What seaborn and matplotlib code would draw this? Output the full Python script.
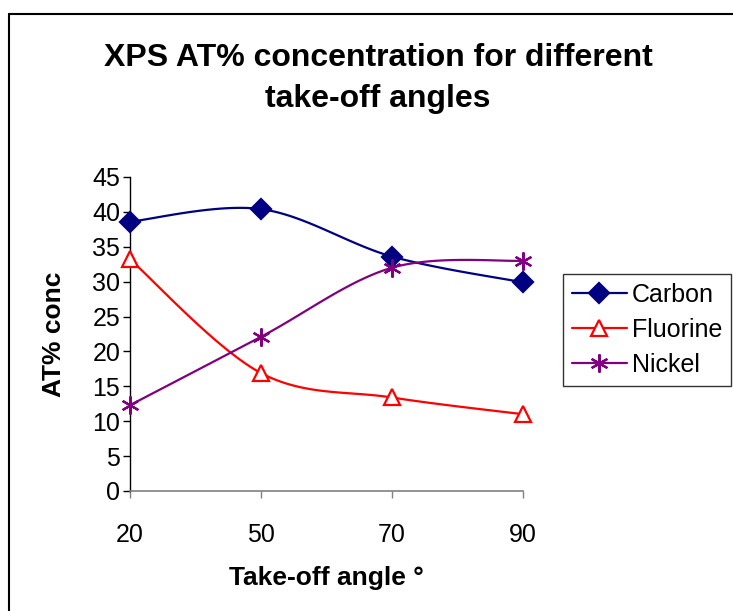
import numpy as np
import pandas as pd
import matplotlib
matplotlib.use("Agg")
import matplotlib.pyplot as plt
import seaborn as sns
from matplotlib.lines import Line2D

# data
angles = ["20", "50", "70", "90"]
carbon = [38.6, 40.4, 33.6, 29.9]
fluorine = [33.2, 16.9, 13.4, 11.0]
nickel = [12.3, 22.1, 32.0, 33.0]

series_names = ["Carbon", "Fluorine", "Nickel"]
colors = {"Carbon": "#000080", "Fluorine": "#FF0000", "Nickel": "#800080"}

sns.set_style("white")
plt.rcParams['font.family'] = ['Liberation Sans', 'DejaVu Sans']
plt.rcParams['text.color'] = 'black'
plt.rcParams['axes.labelcolor'] = 'black'

df = pd.DataFrame({
    "pos": np.tile(np.arange(len(angles)), len(series_names)),
    "angle": angles * len(series_names),
    "value": carbon + fluorine + nickel,
    "series": np.repeat(series_names, len(angles)),
})


def smooth(x, y, n=40):
    # Excel-style smoothed line: cubic bezier with catmull-rom control points
    p = np.column_stack([x, y]).astype(float)
    ext = np.vstack([p[:1], p, p[-1:]])
    out = []
    t = np.linspace(0, 1, n)[:, None]
    for i in range(len(p) - 1):
        p0, p3 = ext[i + 1], ext[i + 2]
        p1 = p0 + (ext[i + 2] - ext[i]) / 6
        p2 = p3 - (ext[i + 3] - ext[i + 1]) / 6
        seg = ((1 - t) ** 3) * p0 + 3 * ((1 - t) ** 2) * t * p1 + 3 * (1 - t) * t ** 2 * p2 + t ** 3 * p3
        out.append(seg if i == 0 else seg[1:])
    out = np.vstack(out)
    return out[:, 0], out[:, 1]


fig = plt.figure(figsize=(7.33, 6.11), dpi=100)
ax = fig.add_axes([130 / 733, 120 / 611, 393 / 733, 314 / 611])

markers = {"Carbon": "D", "Fluorine": "^", "Nickel": (6, 2, 0)}
msize = {"Carbon": 10, "Fluorine": 11, "Nickel": 13}
handles = []
for name in series_names:
    sub = df[df["series"] == name]
    sx, sy = smooth(sub["pos"].values, sub["value"].values)
    sns.lineplot(x=sx, y=sy, sort=False, ax=ax, color=colors[name], lw=1.6,
                 estimator=None, legend=False, zorder=2)
    face = "white" if name == "Fluorine" else colors[name]
    ax.plot(sub["pos"], sub["value"], ls="none", marker=markers[name],
            ms=msize[name], mfc=face, mec=colors[name], mew=1.6, zorder=3,
            clip_on=False)
    handles.append(Line2D([], [], color=colors[name], lw=1.6, marker=markers[name],
                          ms=msize[name], mfc=face, mec=colors[name], mew=1.6))

ax.set_xlim(0, 3)
ax.set_ylim(0, 45)
ax.set_xticks(range(len(angles)))
ax.set_xticklabels(angles)
ax.set_yticks(range(0, 46, 5))

for s in ["top", "right"]:
    ax.spines[s].set_visible(False)
ax.spines["left"].set_color("black")
ax.spines["left"].set_linewidth(1)
ax.spines["bottom"].set_color("#808080")
ax.spines["bottom"].set_linewidth(1.2)
ax.tick_params(axis="y", direction="out", length=5, width=1, color="black",
               labelcolor="black", labelsize=18, pad=2, left=True)
ax.tick_params(axis="x", direction="out", length=5, width=1, color="#808080",
               labelcolor="black", labelsize=18, pad=18, bottom=True)

ax.set_xlabel("Take-off angle °", fontsize=19, fontweight="bold")
ax.set_ylabel("AT% conc", fontsize=19, fontweight="bold")
ax.xaxis.set_label_coords(0.5, -0.24)
ax.yaxis.set_label_coords(-0.163, 0.5)

fig.text(378 / 733, 1 - 66 / 611, "XPS AT% concentration for different",
         ha="center", va="baseline", fontsize=23, fontweight="bold")
fig.text(378 / 733, 1 - 107 / 611, "take-off angles",
         ha="center", va="baseline", fontsize=23, fontweight="bold")

leg = fig.legend(handles, series_names, loc="upper left",
                 bbox_to_anchor=(563 / 733, 1 - 274 / 611), fontsize=18,
                 frameon=True, fancybox=False, edgecolor="black",
                 handlelength=2.2, handletextpad=0.2, labelspacing=0.45,
                 borderpad=0.35, borderaxespad=0)
leg.get_frame().set_linewidth(1)

# outer chart border (cropped on right and bottom)
fig.add_artist(Line2D([9 / 733, 9 / 733], [0, 1 - 13.5 / 611], color="black", lw=1.5,
                      transform=fig.transFigure))
fig.add_artist(Line2D([9 / 733, 1], [1 - 13.5 / 611, 1 - 13.5 / 611], color="black", lw=1.5,
                      transform=fig.transFigure))

fig.savefig("out.png", dpi=100)
